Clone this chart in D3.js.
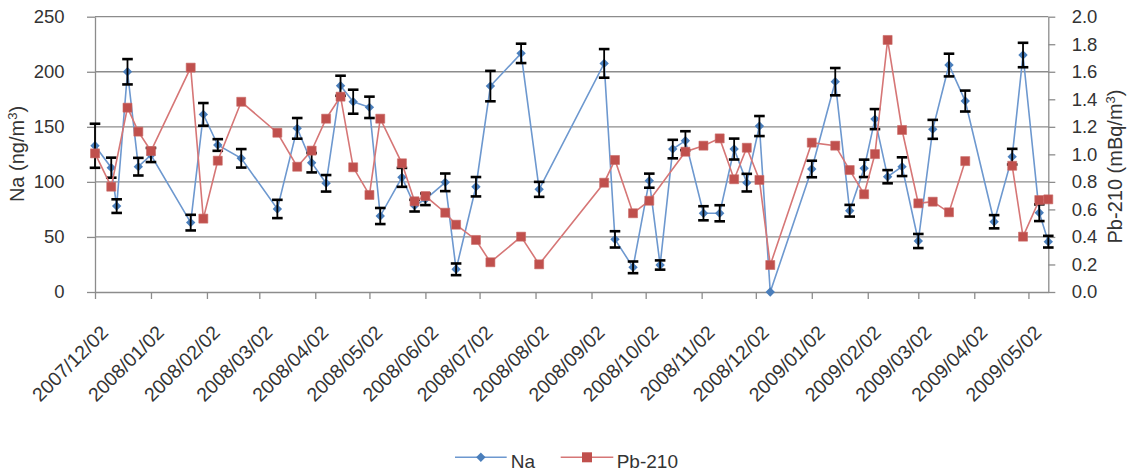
<!DOCTYPE html>
<html><head><meta charset="utf-8">
<script src="https://cdn.jsdelivr.net/npm/d3@7"></script>
<style>
body{margin:0;background:#fff}
svg{display:block}
text{font-family:"Liberation Sans",Arial,sans-serif;fill:#333}
</style>
</head><body>
<svg id="c" width="1128" height="472"></svg>
<script>
// ---- data ----
const dates = [
 "2007/12/02","2007/12/11","2007/12/14","2007/12/20","2007/12/26","2008/01/02","2008/01/24","2008/01/31",
 "2008/02/08","2008/02/21","2008/03/12","2008/03/23","2008/03/31","2008/04/08","2008/04/16","2008/04/23",
 "2008/05/02","2008/05/08","2008/05/20","2008/05/27","2008/06/02","2008/06/13","2008/06/19","2008/06/30",
 "2008/07/08","2008/07/25","2008/08/04","2008/09/09","2008/09/15","2008/09/25","2008/10/04","2008/10/10",
 "2008/10/17","2008/10/24","2008/11/03","2008/11/12","2008/11/20","2008/11/27","2008/12/04","2008/12/10",
 "2009/01/02","2009/01/15","2009/01/23","2009/01/31","2009/02/06","2009/02/13","2009/02/21","2009/03/02",
 "2009/03/10","2009/03/19","2009/03/28","2009/04/13","2009/04/23","2009/04/29","2009/05/08","2009/05/13"];
const naValues = [
 132.8,112.9,78,200,113.8,124.4,63,161.3,
 133.5,121.4,75.4,148.6,117.4,98.7,187.3,172.8,
 167.7,69,104.1,78.4,84.2,99.6,20.6,95.6,
 187,216.7,93.2,207.6,47.8,22.4,101.1,24.5,
 129.8,137.4,71.5,71.5,129.8,99.3,150.7,0,
 111.7,191,73.8,112.3,157,104.7,113.8,46.3,
 147.7,206.1,173.4,63.8,122.9,215.2,72,45.7];
const naErrors = [
 20,9.1,6.2,11.5,8,6.4,7.1,10.3,
 5.3,8.4,8.3,9.4,8.8,7.5,9.1,10.9,
 9.7,7.3,8.6,5.3,5.3,8,5.3,8.8,
 13.8,8.8,6.8,13,7.4,5.3,6.4,4.2,
 8.4,8.6,6.4,7.3,9.5,8,9.1,0,
 7.5,12.4,5.3,7.9,9.1,6,8.5,6.4,
 8.6,10.3,9.5,6,7.1,11.1,7.6,5.3];
const pbValues = [
 1.007,0.765,null,1.339,1.165,1.024,1.63,0.533,
 0.954,1.382,1.157,0.910,1.027,1.259,1.419,0.906,
 0.705,1.259,0.935,0.659,0.697,0.576,0.489,0.378,
 0.216,0.402,0.201,0.794,0.959,0.572,0.663,null,
 null,1.019,1.063,1.116,0.819,1.048,0.814,0.196,
 1.085,1.063,0.886,0.710,1.002,1.831,1.177,0.644,
 0.656,0.579,0.951,null,0.917,0.402,0.668,0.673];
const pbLineBreaks = ["2009/04/13"];   // empty cell -> gap in the Pb-210 line
const xTickLabels = ["2007/12/02","2008/01/02","2008/02/02","2008/03/02","2008/04/02","2008/05/02",
 "2008/06/02","2008/07/02","2008/08/02","2008/09/02","2008/10/02","2008/11/02","2008/12/02",
 "2009/01/02","2009/02/02","2009/03/02","2009/04/02","2009/05/02"];
const leftTicks = [0,50,100,150,200,250];
const rightTicks = [0,0.2,0.4,0.6,0.8,1.0,1.2,1.4,1.6,1.8,2.0];
const seriesNames = ["Na","Pb-210"];

// ---- chart ----
const parse = d3.timeParse("%Y/%m/%d");
const svg = d3.select("#c");
const P = {left:95,right:1048.3,top:16.7,bottom:292};
const x = d3.scaleTime().domain([parse(dates[0]), parse(dates[dates.length-1])]).range([P.left,P.right]);
const yL = d3.scaleLinear().domain([0,250]).range([P.bottom,P.top]);
const yR = d3.scaleLinear().domain([0,2]).range([P.bottom,P.top]);
const gridC = "#8c8c8c";
const naC = "#4a7ebb", naLineC = "#6d98cf";
const pbC = "#c0504d", pbLineC = "#d67676";
const txtC = "#333";

// gridlines
svg.append("g").selectAll("line").data(leftTicks.filter(v=>v>0)).join("line")
  .attr("x1",P.left).attr("x2",P.right).attr("y1",d=>yL(d)).attr("y2",d=>yL(d))
  .attr("stroke",gridC).attr("stroke-width",1.3);

// axes
const gL = svg.append("g").attr("transform",`translate(${P.left},0)`)
  .call(d3.axisLeft(yL).tickValues(leftTicks).tickSize(8).tickSizeOuter(0).tickPadding(22.5).tickFormat(d3.format("d")));
const gR = svg.append("g").attr("transform",`translate(${P.right},0)`)
  .call(d3.axisRight(yR).tickValues(rightTicks).tickSize(7).tickSizeOuter(0).tickPadding(16.4).tickFormat(d3.format(".1f")));
const xTicks = xTickLabels.map(parse);
const gX = svg.append("g").attr("transform",`translate(0,${P.bottom})`)
  .call(d3.axisBottom(x).tickValues(xTicks).tickSize(7).tickSizeOuter(0).tickFormat((d,i)=>xTickLabels[i]));
[gL,gR,gX].forEach(g=>{
  g.selectAll("path.domain").attr("stroke",gridC).attr("stroke-width",1.3);
  g.selectAll(".tick line").attr("stroke",gridC).attr("stroke-width",1.3);
  g.selectAll("text").attr("font-size",18.5).attr("font-family",'"Liberation Sans",Arial,sans-serif').attr("fill",txtC);
});
gX.selectAll("text").attr("x",0).attr("y",0).attr("dy","0.35em").attr("font-size",19.5)
  .attr("text-anchor","end").attr("transform","translate(9,37) rotate(-45)");

// axis titles
const tL = svg.append("text").attr("transform","translate(23.5,154) rotate(-90)")
  .attr("text-anchor","middle").attr("font-size",20);
tL.append("tspan").text("Na (ng/m");
tL.append("tspan").attr("dy",-7).attr("font-size",13).text("3");
tL.append("tspan").attr("dy",7).text(")");
const tR = svg.append("text").attr("transform","translate(1122,166.5) rotate(-90)")
  .attr("text-anchor","middle").attr("font-size",20);
tR.append("tspan").text("Pb-210 (mBq/m");
tR.append("tspan").attr("dy",-7).attr("font-size",13).text("3");
tR.append("tspan").attr("dy",7).text(")");

// Na series
const rows = dates.map((d,i)=>({date:parse(d),key:d,na:naValues[i],err:naErrors[i],pb:pbValues[i]}));
const lineNa = d3.line().x(d=>x(d.date)).y(d=>yL(d.na));
svg.append("path").datum(rows).attr("d",lineNa).attr("fill","none")
  .attr("stroke",naLineC).attr("stroke-width",1.6);
const diamond = d3.symbol(d3.symbolSquare,44);
svg.append("g").selectAll("path").data(rows).join("path")
  .attr("d",diamond).attr("transform",d=>`translate(${x(d.date)},${yL(d.na)}) rotate(45)`)
  .attr("fill",naC);
// error bars
const eb = svg.append("g").attr("stroke","#000");
rows.filter(d=>d.err>0).forEach(d=>{
  const cx=x(d.date), y1=yL(d.na+d.err), y2=yL(d.na-d.err);
  eb.append("line").attr("x1",cx).attr("x2",cx).attr("y1",y1).attr("y2",y2).attr("stroke-width",1.8);
  [y1,y2].forEach(yy=>eb.append("line").attr("x1",cx-5.3).attr("x2",cx+5.3).attr("y1",yy).attr("y2",yy).attr("stroke-width",2.6));
});

// Pb series (line segments)
const segs=[]; let cur=[];
rows.forEach(r=>{
  if(pbLineBreaks.includes(r.key)){ if(cur.length) segs.push(cur); cur=[]; return; }
  if(r.pb!==null) cur.push(r);
});
if(cur.length) segs.push(cur);
const linePb = d3.line().x(d=>x(d.date)).y(d=>yR(d.pb));
svg.append("g").selectAll("path").data(segs).join("path").attr("d",linePb)
  .attr("fill","none").attr("stroke",pbLineC).attr("stroke-width",1.6);
const sq = d3.symbol(d3.symbolSquare,81);
svg.append("g").selectAll("path").data(rows.filter(r=>r.pb!==null)).join("path")
  .attr("d",sq).attr("transform",d=>`translate(${x(d.date)},${yR(d.pb)})`)
  .attr("fill",pbC).attr("stroke","#c96a67").attr("stroke-width",0.6);

// legend
const lg = svg.append("g");
const legendItems = [
  {name:seriesNames[0], x1:455, x2:506.7, lc:naLineC, mc:naC, sym:d3.symbol(d3.symbolSquare,44), rot:45, tx:510.7},
  {name:seriesNames[1], x1:560.7, x2:613.3, lc:pbLineC, mc:pbC, sym:d3.symbol(d3.symbolSquare,100), rot:0, tx:616.7}
];
legendItems.forEach(it=>{
  lg.append("line").attr("x1",it.x1).attr("x2",it.x2).attr("y1",457.3).attr("y2",457.3)
    .attr("stroke",it.lc).attr("stroke-width",1.6);
  lg.append("path").attr("d",it.sym).attr("transform",`translate(${(it.x1+it.x2)/2},457.3) rotate(${it.rot})`).attr("fill",it.mc);
  lg.append("text").attr("x",it.tx).attr("y",467.5).attr("font-size",19).text(it.name);
});
</script>
</body></html>
